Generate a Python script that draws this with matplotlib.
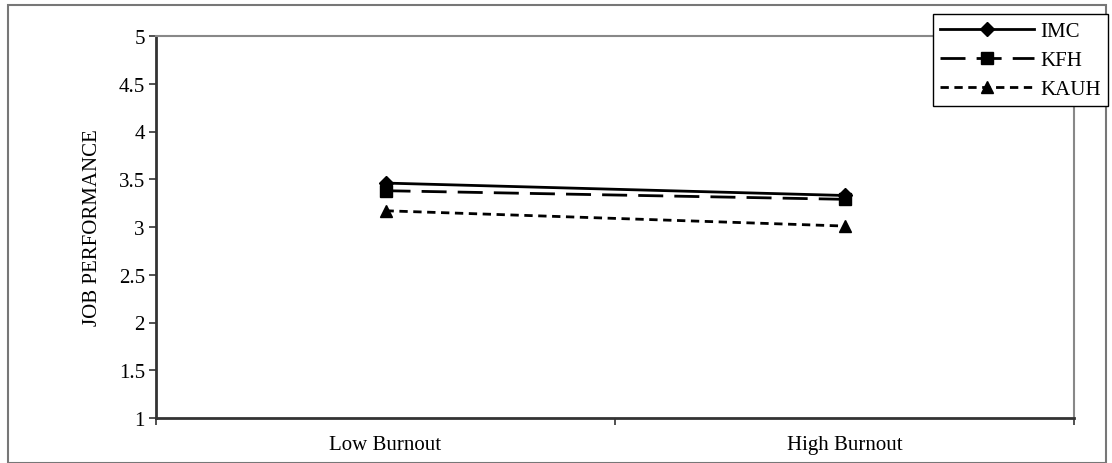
import matplotlib.pyplot as plt
from matplotlib.patches import Rectangle

plt.rcParams['font.family'] = ['Liberation Serif', 'DejaVu Serif']

categories = ["Low Burnout", "High Burnout"]
imc = [3.46, 3.33]
kfh = [3.38, 3.29]
kauh = [3.17, 3.01]

fig = plt.figure(figsize=(11.12, 4.64), dpi=100)
ax = fig.add_axes([156 / 1112, 1 - 419 / 464, (1074 - 156) / 1112, (419 - 37) / 464])

x = [0.5, 1.5]
ax.plot(x, imc, color='black', lw=2, marker='D', ms=7, label='IMC')
ax.plot(x, kfh, color='black', lw=2, dashes=(9, 4), marker='s', ms=9, label='KFH')
ax.plot(x, kauh, color='black', lw=2, dashes=(3, 2), marker='^', ms=9, label='KAUH')

ax.set_xlim(0, 2)
ax.set_ylim(1, 5)
ax.set_yticks([1, 1.5, 2, 2.5, 3, 3.5, 4, 4.5, 5])
ax.set_yticklabels(['1', '1.5', '2', '2.5', '3', '3.5', '4', '4.5', '5'])
ax.set_xticks([0, 1, 2])
ax.set_xticklabels([])
ax.set_xticks(x, minor=True)
ax.set_xticklabels(categories, minor=True)
ax.tick_params(axis='x', which='minor', length=0, pad=12, labelsize=15)
ax.tick_params(axis='both', which='major', direction='out', length=5, width=1.2,
               color='#333333', labelsize=15, pad=3)
ax.set_ylabel('JOB PERFORMANCE', fontsize=15, labelpad=12)

for side in ['left', 'bottom']:
    ax.spines[side].set_color('#333333')
    ax.spines[side].set_linewidth(2)
for side in ['top', 'right']:
    ax.spines[side].set_color('#888888')
    ax.spines[side].set_linewidth(1.5)

leg = fig.legend(loc='upper right', bbox_to_anchor=(1108 / 1112, 1 - 15 / 464),
                 fontsize=15, frameon=True, fancybox=False, edgecolor='black',
                 handlelength=4.5, borderpad=0.35, labelspacing=0.45, handletextpad=0.3,
                 borderaxespad=0, framealpha=1)
leg.get_frame().set_linewidth(1)

# outer chart border
fig.patches.append(Rectangle((8 / 1112, 0), (1106 - 8) / 1112, 1 - 6 / 464,
                             transform=fig.transFigure, fill=False,
                             edgecolor='#777777', lw=1.5, zorder=-1))

plt.savefig('out.png', dpi=100)
